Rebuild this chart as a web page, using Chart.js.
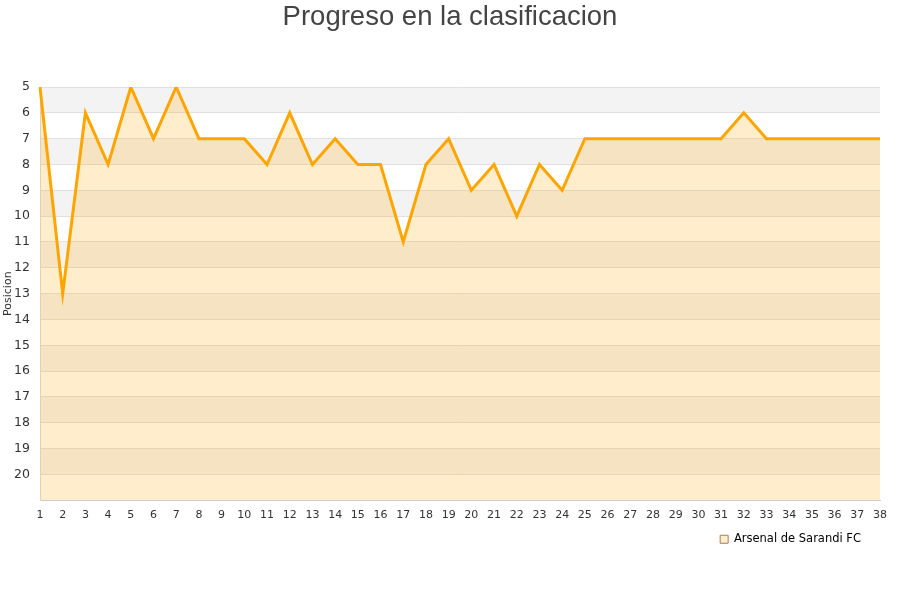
<!DOCTYPE html>
<html><head><meta charset="utf-8">
<script src="https://cdn.jsdelivr.net/npm/chart.js@4/dist/chart.umd.min.js"></script>
<style>html,body{margin:0;padding:0;background:#fff;}canvas{display:block;}</style>
</head><body>
<canvas id="c" width="900" height="600"></canvas>
<script>
const rounds = ["1","2","3","4","5","6","7","8","9","10","11","12","13","14","15","16","17","18","19","20","21","22","23","24","25","26","27","28","29","30","31","32","33","34","35","36","37","38"];
const positions = [5,13,6,8,5,7,5,7,7,7,8,6,8,7,8,8,11,8,7,9,8,10,8,9,7,7,7,7,7,7,7,6,7,7,7,7,7,7];
const teamName = "Arsenal de Sarandi FC";
const chartTitle = "Progreso en la clasificacion";
const yTitle = "Posicion";
const yMin = 5, yMax = 21;

const bands = {
  id: 'bands',
  beforeDraw(chart) {
    const {ctx, chartArea: a, scales: {y}} = chart;
    ctx.save();
    for (let v = yMin; v < yMax; v += 2) {
      const p1 = y.getPixelForValue(v), p2 = y.getPixelForValue(v + 1);
      ctx.fillStyle = '#f3f3f3';
      ctx.fillRect(a.left, Math.min(p1, p2), a.right - a.left, Math.abs(p2 - p1));
    }
    ctx.restore();
  }
};

const legendShift = {
  id: 'legendShift',
  afterLayout(chart) {
    const lg = chart.legend;
    if (lg) { lg.right -= 25; }
  }
};

new Chart(document.getElementById('c'), {
  type: 'line',
  data: {
    labels: rounds,
    datasets: [{
      label: teamName,
      data: positions,
      borderColor: '#ffa500',
      backgroundColor: 'rgba(255,165,0,0.2)',
      borderWidth: 3,
      pointRadius: 0,
      tension: 0,
      fill: 'start'
    }]
  },
  options: {
    responsive: false,
    animation: false,
    layout: {padding: {top: 1, right: 2, bottom: 45, left: 2}},
    plugins: {
      title: {
        display: true, text: chartTitle,
        font: {family: 'Liberation Sans', size: 27.5, weight: 'normal'},
        color: '#444', padding: {top: 0, bottom: 53}
      },
      legend: {
        position: 'bottom', align: 'end',
        labels: {
          font: {family: 'DejaVu Sans', size: 11.5}, color: '#222',
          boxWidth: 8, boxHeight: 8, padding: 12,
          generateLabels(chart) {
            return [{text: teamName, fillStyle: '#ffedcc', strokeStyle: '#a08060', lineWidth: 1, datasetIndex: 0}];
          }
        }
      },
      tooltip: {enabled: false}
    },
    scales: {
      x: {
        offset: false,
        afterFit(s) { s.paddingRight = 20; },
        grid: {display: false},
        border: {color: '#cccccc'},
        ticks: {font: {family: 'DejaVu Sans', size: 11}, color: '#333', maxRotation: 0, autoSkip: false, padding: 0}
      },
      y: {
        reverse: true, min: yMin, max: yMax,
        afterFit(s) { s.width = 38; },
        grid: {color: '#e0e0e0', drawTicks: false},
        border: {color: '#dddddd'},
        title: {display: true, text: yTitle, font: {family: 'DejaVu Sans', size: 11}, color: '#333', padding: {top: 0, bottom: 0}},
        ticks: {
          stepSize: 1, padding: 10,
          font: {family: 'DejaVu Sans', size: 12.5}, color: '#333',
          callback: v => v === yMax ? '' : v
        }
      }
    }
  },
  plugins: [bands, legendShift]
});
</script>
</body></html>
